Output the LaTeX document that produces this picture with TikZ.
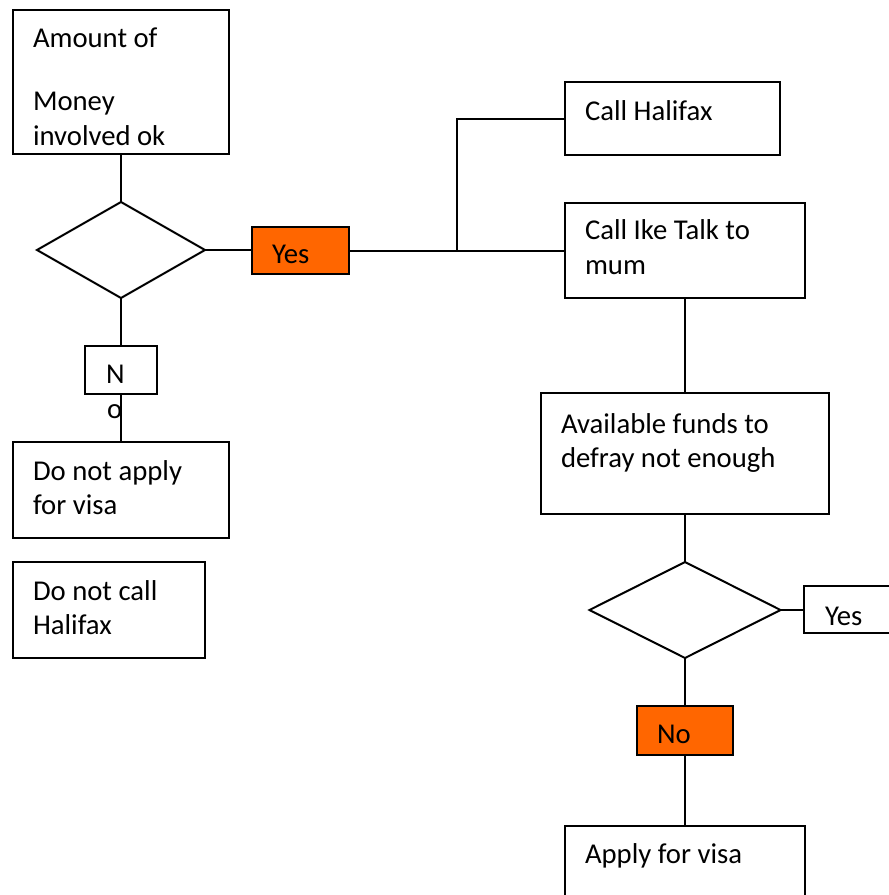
\documentclass[tikz,border=0pt]{standalone}
\usepackage{fontspec}
\setmainfont{Carlito}
\usetikzlibrary{shapes.geometric,fit}
\definecolor{orng}{HTML}{FF6600}
\tikzset{
  box/.style={draw=black, line width=1pt, rectangle, inner sep=0pt, outer sep=0pt, fill=white},
  obox/.style={box, fill=orng},
  dia/.style={draw=black, line width=1pt, diamond, inner sep=0pt, outer sep=0pt, fill=white},
  txt/.style={inner sep=0pt, outer sep=0pt, anchor=base west, font=\fontsize{14.35pt}{17.5pt}\selectfont},
  conn/.style={draw=black, line width=1pt},
}
\begin{document}
\begin{tikzpicture}[x=0.5pt, y=-0.5pt]
\useasboundingbox (0,0) rectangle (889,895);
\clip (0,0) rectangle (889,895);
% boxes
\node[box, fit={(13,10) (229,154)}] (amt) {};
\node[dia, minimum width=84pt, minimum height=48pt] (d1) at (121,250) {};
\node[obox, fit={(252,227) (349,274)}] (yes1) {};
\node[box, fit={(565,82) (780,155)}] (hal) {};
\node[box, fit={(565,203) (805,298)}] (ike) {};
\node[box, fit={(541,393) (829,514)}] (funds) {};
\node[dia, minimum width=95.5pt, minimum height=48pt] (d2) at (685,610) {};
\node[box, fit={(804,586) (905,633)}] (yes2) {};
\node[obox, fit={(637,706) (733,755)}] (no2) {};
\node[box, fit={(565,826) (805,915)}] (apply) {};
\node[box, fit={(85,346) (157,394)}] (no1) {};
\node[box, fit={(13,442) (229,538)}] (dna) {};
\node[box, fit={(13,562) (205,658)}] (dnc) {};
% connectors
\coordinate (br) at (457,250);
\draw[conn] (amt.south) -- (d1.north);
\draw[conn] (d1.east) -- (yes1.west |- d1.east);
\draw[conn] (yes1.east) -- (yes1.east -| ike.west);
\draw[conn] (br) |- (hal.west);
\draw[conn] (ike.south) -- (ike.south |- funds.north);
\draw[conn] (funds.south -| d2.north) -- (d2.north);
\draw[conn] (d2.east) -- (d2.east -| yes2.west);
\draw[conn] (d2.south) -- (d2.south |- no2.north);
\draw[conn] (no2.south) -- (no2.south |- apply.north);
\draw[conn] (d1.south) -- (d1.south |- no1.north);
\draw[conn] (no1.south) -- (no1.south |- dna.north);
% texts
\node[txt] (t1a) at (33,47) {Amount of};
\node[txt] (t1b) at (33,110) {Money};
\node[txt] (t1c) at (33,145) {involved ok};
\node[txt] (ty1) at (272,263) {Yes};
\node[txt] (th) at (585,120) {Call Halifax};
\node[txt] (ti1) at (585,239) {Call Ike Talk to};
\node[txt] (ti2) at (585,274) {mum};
\node[txt] (tf1) at (561,433) {Available funds to};
\node[txt] (tf2) at (561,467) {defray not enough};
\node[txt] (ty2) at (825,625) {Yes};
\node[txt] (tn2) at (657,743) {No};
\node[txt] (ta) at (585,863) {Apply for visa};
\node[txt] (tn1a) at (106,383) {N};
\node[txt] (tn1b) at (107,418) {o};
\node[txt] (td1) at (33,480) {Do not apply};
\node[txt] (td2) at (33,514) {for visa};
\node[txt] (tc1) at (33,600) {Do not call};
\node[txt] (tc2) at (33,634) {Halifax};
\end{tikzpicture}
\end{document}
